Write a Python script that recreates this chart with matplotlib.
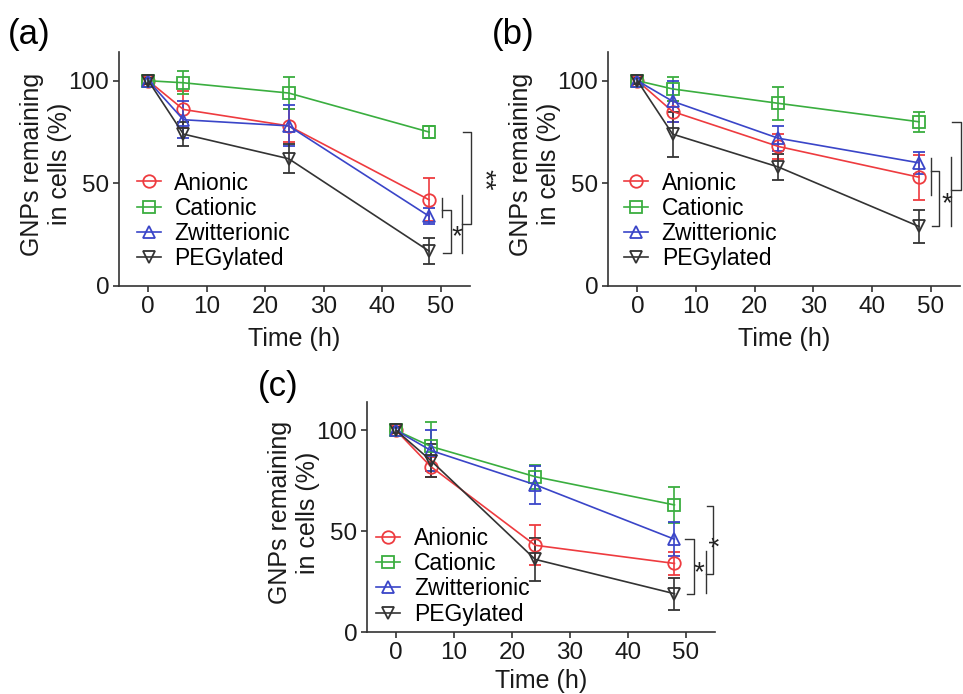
import matplotlib.pyplot as plt
import numpy as np

plt.rcParams['font.family'] = ['Liberation Sans', 'DejaVu Sans']

# time points (h)
time_h = [0, 6, 24, 48]
names = ['Anionic', 'Cationic', 'Zwitterionic', 'PEGylated']
colors = ['#ee3b3f', '#3aae3f', '#3a45c8', '#333333']
markers = ['o', 's', '^', 'v']

# panel (a)
a_anionic = [100, 86, 78, 42]
a_anionic_err = [1.5, 9, 8, 10.5]
a_cationic = [100, 99, 94, 75]
a_cationic_err = [1.5, 5.5, 8, 3]
a_zwitter = [100, 81, 78, 34]
a_zwitter_err = [1.5, 9, 10, 4]
a_peg = [100, 74, 62, 17]
a_peg_err = [1.5, 6, 7, 6.5]

# panel (b)
b_anionic = [100, 85, 68, 53]
b_anionic_err = [1.5, 5, 6, 11]
b_cationic = [100, 96, 89, 80]
b_cationic_err = [1.5, 6, 8, 5]
b_zwitter = [100, 90, 72, 60]
b_zwitter_err = [1.5, 10, 6, 5.5]
b_peg = [100, 74, 58, 29]
b_peg_err = [1.5, 11, 6.5, 8]

# panel (c)
c_anionic = [100, 82, 43, 34]
c_anionic_err = [1.5, 5, 10, 5.5]
c_cationic = [100, 92, 77, 63]
c_cationic_err = [1.5, 12, 6, 9]
c_zwitter = [100, 90, 73, 46]
c_zwitter_err = [1.5, 10, 9.5, 8.5]
c_peg = [100, 85, 36, 19]
c_peg_err = [1.5, 8, 10.5, 8]

# significance brackets: (x_in, x_out, y_start, y_end, group_lo, group_hi, text, tx, ty, rot)
a_brackets = [(50.2, 51.7, 37, 16, 33.7, 42.8, '*', 52.8, 24, 0),
              (53.6, 55.1, 30, 75, 16, 44.4, '**', 57.2, 52, 270)]
b_brackets = [(50.1, 51.4, 55.8, 29, 44.4, 62.4, '*', 52.7, 40, 0),
              (53.4, 55.1, 46.8, 80, 29, 63, '', 0, 0, 0)]
c_brackets = [(49.9, 51.3, 46, 19, None, None, '*', 52.3, 29, 0),
              (53.4, 54.7, 29, 62.3, 19.2, 40, '*', 56.0, 45, 90)]

panels = [
    ('(a)', [0.1236, 0.5879, 0.3645, 0.3372], (0.0083, 0.9496),
     [(a_anionic, a_anionic_err), (a_cationic, a_cationic_err),
      (a_zwitter, a_zwitter_err), (a_peg, a_peg_err)], a_brackets, (0.05, 0.278), 7),
    ('(b)', [0.6314, 0.5879, 0.3655, 0.3372], (0.511, 0.9496),
     [(b_anionic, b_anionic_err), (b_cationic, b_cationic_err),
      (b_zwitter, b_zwitter_err), (b_peg, b_peg_err)], b_brackets, (0.045, 0.278), 7),
    ('(c)', [0.3811, 0.0893, 0.3614, 0.3314], (0.268, 0.4438),
     [(c_anionic, c_anionic_err), (c_cationic, c_cationic_err),
      (c_zwitter, c_zwitter_err), (c_peg, c_peg_err)], c_brackets, (0.026, 0.243), 3.5),
]

fig = plt.figure(figsize=(9.63, 6.94), dpi=100)
axc = '#333333'

for label, rect, lab_pos, series, brackets, leg_pos, xpad in panels:
    ax = fig.add_axes(rect)
    handles = []
    for (vals, errs), name, col, mk in zip(series, names, colors, markers):
        cont = ax.errorbar(time_h, vals, yerr=errs, color=col, marker=mk, ms=9,
                           mfc='none', mec=col, mew=1.3, lw=1.2, elinewidth=1.2,
                           capsize=4.5, capthick=1.2, clip_on=False)
        handles.append(cont[0])

    # brackets
    for x0, x1, y0, y1, glo, ghi, txt, tx, ty, rot in brackets:
        if glo is not None:
            ax.plot([x0, x0], [glo, ghi], color=axc, lw=1, clip_on=False)
        ax.plot([x0, x1, x1, x0 + 0.2], [y0, y0, y1, y1], color=axc, lw=1, clip_on=False)
        if txt:
            ax.text(tx, ty, txt, fontsize=20, rotation=rot, ha='center', va='center',
                    color='#222222', clip_on=False)

    ax.set_xlim(-5, 55)
    ax.set_ylim(0, 114)
    ax.set_xticks([0, 10, 20, 30, 40, 50])
    ax.set_yticks([0, 50, 100])
    for s in ['top', 'right']:
        ax.spines[s].set_visible(False)
    for s in ['left', 'bottom']:
        ax.spines[s].set_color(axc)
        ax.spines[s].set_linewidth(1.2)
    ax.tick_params(direction='out', length=4.5, width=1.2, color=axc,
                   labelsize=17.5, pad=2.5, labelcolor='#1a1a1a')
    ax.set_xlabel('Time (h)', fontsize=18, labelpad=xpad, color='#1a1a1a')
    ax.set_ylabel('GNPs remaining\nin cells (%)', fontsize=18, color='#1a1a1a')
    ax.yaxis.set_label_coords(-0.135, 0.52)

    ax.legend(handles=handles, labels=names, loc='center left', bbox_to_anchor=leg_pos,
              frameon=False, fontsize=16.5, handlelength=1.05, handletextpad=0.6,
              labelspacing=0.1, borderpad=0, borderaxespad=0)

    fig.text(lab_pos[0], lab_pos[1], label, fontsize=25, ha='left', va='center')

plt.savefig('out.png', dpi=100)
plt.close()
